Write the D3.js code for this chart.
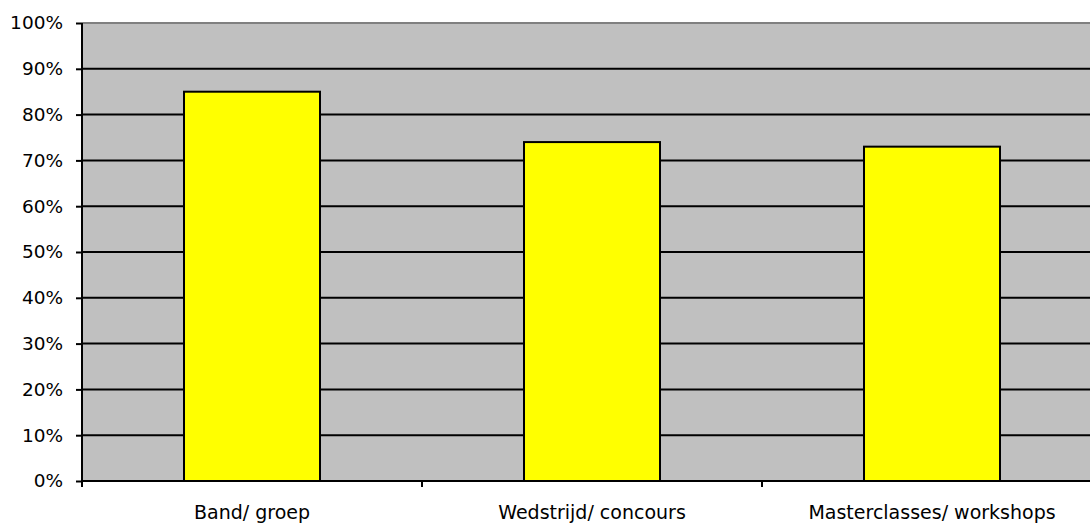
<!DOCTYPE html>
<html><head><meta charset="utf-8">
<script src="https://cdn.jsdelivr.net/npm/d3@7"></script>
<style>body{margin:0;background:#fff;} svg{display:block;}</style>
</head><body>
<svg id="c" width="1090" height="525"></svg>
<script>
const categories = ["Band/ groep", "Wedstrijd/ concours", "Masterclasses/ workshops"];
const values = [0.85, 0.74, 0.73];
const yTicks = [0, 0.1, 0.2, 0.3, 0.4, 0.5, 0.6, 0.7, 0.8, 0.9, 1.0];

(function () {
const svg = d3.select("#c");
const pLeft = 82, pRight = 1102, pTop = 23, pBottom = 481;
const font = "Tahoma, 'DejaVu Sans', sans-serif";

const x = d3.scaleBand().domain(categories).range([pLeft, pRight]).paddingInner(0.6).paddingOuter(0.3);
const y = d3.scaleLinear().domain([0, 1]).range([pBottom, pTop]);

svg.append("rect").attr("x", pLeft).attr("y", pTop).attr("width", pRight - pLeft).attr("height", pBottom - pTop).attr("fill", "#c0c0c0");

svg.append("g").selectAll("line").data(yTicks.filter(d => d > 0 && d < 1)).join("line")
  .attr("x1", pLeft).attr("x2", pRight).attr("y1", d => y(d)).attr("y2", d => y(d))
  .attr("stroke", "#000").attr("stroke-width", 2);
svg.append("line").attr("x1", pLeft).attr("x2", pRight).attr("y1", y(1)).attr("y2", y(1))
  .attr("stroke", "#808080").attr("stroke-width", 2);

svg.append("g").selectAll("rect").data(values).join("rect")
  .attr("x", (d, i) => x(categories[i])).attr("width", x.bandwidth())
  .attr("y", d => y(d)).attr("height", d => y(0) - y(d))
  .attr("fill", "#ffff00").attr("stroke", "#000").attr("stroke-width", 2);

const ya = svg.append("g").attr("transform", `translate(${pLeft},0)`)
  .call(d3.axisLeft(y).tickValues(yTicks).tickFormat(d3.format(".0%")).tickSize(6).tickPadding(13));
ya.select(".domain").attr("stroke", "#000").attr("stroke-width", 2).attr("d", `M0,${pTop}V${pBottom}`);
ya.selectAll(".tick line").attr("stroke", "#000").attr("stroke-width", 2);
ya.selectAll("text").attr("font-family", font).attr("font-size", 18.5).attr("fill", "#000");

const step = x.step();
const xa = svg.append("g").attr("transform", `translate(0,${pBottom})`)
  .call(d3.axisBottom(x).tickSize(0).tickPadding(25));
xa.select(".domain").attr("stroke", "#000").attr("stroke-width", 2).attr("d", `M${pLeft},0H${pRight}`);
xa.selectAll("text").attr("font-family", font).attr("font-size", 19).attr("fill", "#000");
xa.selectAll(".sep").data(d3.range(0, categories.length + 1)).join("line").attr("class", "sep")
  .attr("x1", i => pLeft + i * step).attr("x2", i => pLeft + i * step).attr("y1", 0).attr("y2", 6)
  .attr("stroke", "#000").attr("stroke-width", 2);
})();
</script>
</body></html>
